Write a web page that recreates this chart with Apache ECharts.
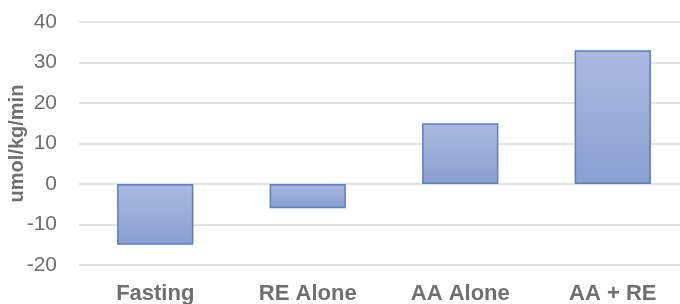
<!DOCTYPE html>
<html><head><meta charset="utf-8">
<script src="https://cdn.jsdelivr.net/npm/echarts@6/dist/echarts.min.js"></script>
<style>html,body{margin:0;padding:0;background:#fff}#c{width:680px;height:304px}</style>
</head><body><div id="c"></div>
<script>
const categories = ["Fasting", "RE Alone", "AA Alone", "AA + RE"];
const values = [-15, -6, 15, 33];
const yTicks = { min: -20, max: 40, interval: 10 };
const yAxisName = "umol/kg/min";

const chart = echarts.init(document.getElementById('c'));
chart.setOption({
  animation: false,
  grid: { left: 79, right: -9, top: 22, bottom: 39, containLabel: false, outerBoundsMode: 'none' },
  xAxis: {
    type: 'category', data: categories,
    axisLine: { show: false }, axisTick: { show: false },
    axisLabel: { color: '#6f6f6f', fontSize: 22, fontWeight: 'bold', fontFamily: 'Liberation Sans, Arial, sans-serif', margin: 18 }
  },
  yAxis: {
    type: 'value', min: yTicks.min, max: yTicks.max, interval: yTicks.interval,
    name: yAxisName, nameLocation: 'middle', nameGap: 52, nameRotate: 90, nameMoveOverlap: false,
    nameTextStyle: { color: '#6f6f6f', fontSize: 20, fontWeight: 'bold', fontFamily: 'Liberation Sans, Arial, sans-serif' },
    axisLine: { show: false }, axisTick: { show: false },
    axisLabel: { color: '#6f6f6f', fontSize: 21, fontFamily: 'Liberation Sans, Arial, sans-serif', margin: 22 },
    splitLine: { lineStyle: { color: '#d9d9d9', width: 1.5 } }
  },
  series: [{
    type: 'bar', data: values, barWidth: '50%',
    itemStyle: {
      color: new echarts.graphic.LinearGradient(0, 0, 0, 1, [
        { offset: 0, color: '#abb9e1' }, { offset: 1, color: '#889fd0' }
      ]),
      borderColor: '#5a7ec6', borderWidth: 1.5
    }
  }]
});
</script></body></html>
